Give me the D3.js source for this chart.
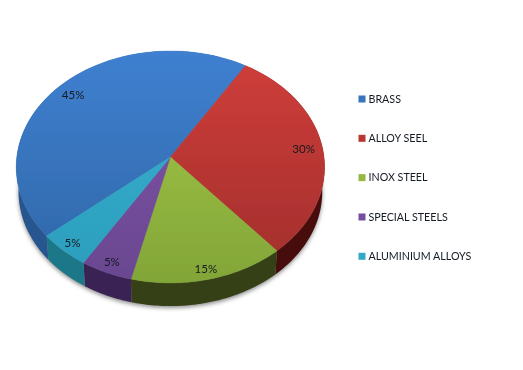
<!DOCTYPE html>
<html>
<head>
<meta charset="utf-8">
<script src="https://cdn.jsdelivr.net/npm/d3@7"></script>
<style>
  html, body { margin: 0; padding: 0; background: #fff; }
  svg { display: block; }
  text { font-family: Lato, sans-serif; fill: #151a22; }
</style>
</head>
<body>
<div id="chart-container"></div>
<script>
const categories = ["BRASS", "ALLOY SEEL", "INOX STEEL", "SPECIAL STEELS", "ALUMINIUM ALLOYS"];
const values = [45, 30, 15, 5, 5];
const percentLabels = ["45%", "30%", "15%", "5%", "5%"];

const topLight = ["#3f80d0", "#d03e3b", "#a6cb48", "#8058aa", "#36b2d2"];
const topDark = ["#2f66a6", "#a02e2b", "#82a538", "#6a4690", "#2c9dbc"];
const sideColors = ["#28558f", "#470f0f", "#343f12", "#3a2455", "#1f7888"];

const width = 523;
const height = 370;

// pie is tilted with perspective, so the apex is not the middle of the ellipse
const cx = 170.4, cy = 157;
const radiusX = 153.6, radiusY = 115.1;
const tilt = -0.086;
const depth = 25, backScale = 0.985;

const project = (angle, r = 1) => {
  const u = Math.sin(angle) * r;
  const v = -Math.cos(angle) * r;
  const d = 1 + tilt * v;
  return [radiusX * u / d, radiusY * v / d];
};
const topPoint = (angle, r) => {
  const p = project(angle, r);
  return [cx + p[0], cy + p[1]];
};
const bottomPoint = (angle) => {
  const p = project(angle);
  return [cx + p[0] * backScale, cy + depth + p[1] * backScale];
};
const arcAngles = (a, b) => d3.range(0, 61).map(i => a + (b - a) * i / 60);

const startAngle = 229.6 * Math.PI / 180;
const pie = d3.pie().sort(null).startAngle(startAngle).endAngle(startAngle + 2 * Math.PI);
const slices = pie(values);
const line = d3.line();

const svg = d3.select("#chart-container")
  .append("svg")
    .attr("width", width)
    .attr("height", height);

const defs = svg.append("defs");
defs.append("filter")
    .attr("id", "soft")
    .attr("x", "-10%").attr("y", "-10%").attr("width", "120%").attr("height", "120%")
  .append("feGaussianBlur")
    .attr("stdDeviation", 2);

// the picture is a little soft all over
defs.append("filter")
    .attr("id", "photo")
    .attr("filterUnits", "userSpaceOnUse")
    .attr("x", 0).attr("y", 0).attr("width", width).attr("height", height)
  .append("feGaussianBlur")
    .attr("stdDeviation", 0.35);

topLight.forEach((c, i) => {
  const g = defs.append("linearGradient")
      .attr("id", "top" + i)
      .attr("gradientUnits", "userSpaceOnUse")
      .attr("x1", 0).attr("x2", 0)
      .attr("y1", 51).attr("y2", 283);
  g.append("stop").attr("offset", "0%").attr("stop-color", c);
  g.append("stop").attr("offset", "100%").attr("stop-color", topDark[i]);
});

const chart = svg.append("g").attr("filter", "url(#photo)");

// shadow under the rim
chart.append("path")
    .attr("d", line(arcAngles(0, 2 * Math.PI).map(bottomPoint).map(p => [p[0], p[1] + 2])) + "Z")
    .attr("fill", "#8a8a8a")
    .attr("filter", "url(#soft)");

// side wall
chart.append("g").selectAll("path")
  .data(slices)
  .join("path")
    .attr("d", d => {
      const angles = arcAngles(d.startAngle, d.endAngle);
      return line(angles.map(a => topPoint(a)).concat(angles.reverse().map(bottomPoint))) + "Z";
    })
    .attr("fill", (d, i) => sideColors[i]);

// top face
chart.append("g").selectAll("path")
  .data(slices)
  .join("path")
    .attr("d", d => line([[cx, cy]].concat(arcAngles(d.startAngle, d.endAngle).map(a => topPoint(a)))) + "Z")
    .attr("fill", (d, i) => `url(#top${i})`)
    .attr("stroke", (d, i) => `url(#top${i})`)
    .attr("stroke-width", 0.4);

// percent labels
chart.append("g").selectAll("text")
  .data(slices)
  .join("text")
    .attr("transform", d => {
      const r = d.value >= 30 ? 0.875 : 0.92;
      const p = topPoint((d.startAngle + d.endAngle) / 2, r);
      return `translate(${p[0]},${p[1]})`;
    })
    .attr("text-anchor", "middle")
    .attr("dy", "0.35em")
    .attr("font-size", 11.5)
    .text((d, i) => percentLabels[i]);

// legend
const legendY = d3.scalePoint()
    .domain(categories)
    .range([99, 256.3]);

const legend = chart.append("g").selectAll("g")
  .data(categories)
  .join("g")
    .attr("transform", d => `translate(358.5,${legendY(d)})`);

legend.append("rect")
    .attr("y", -3.5)
    .attr("width", 7)
    .attr("height", 7)
    .attr("fill", (d, i) => d3.interpolateRgb(topLight[i], topDark[i])(0.5));

legend.append("text")
    .attr("x", 10)
    .attr("dy", "0.35em")
    .attr("font-size", 10.7)
    .text(d => d);
</script>
</body>
</html>
